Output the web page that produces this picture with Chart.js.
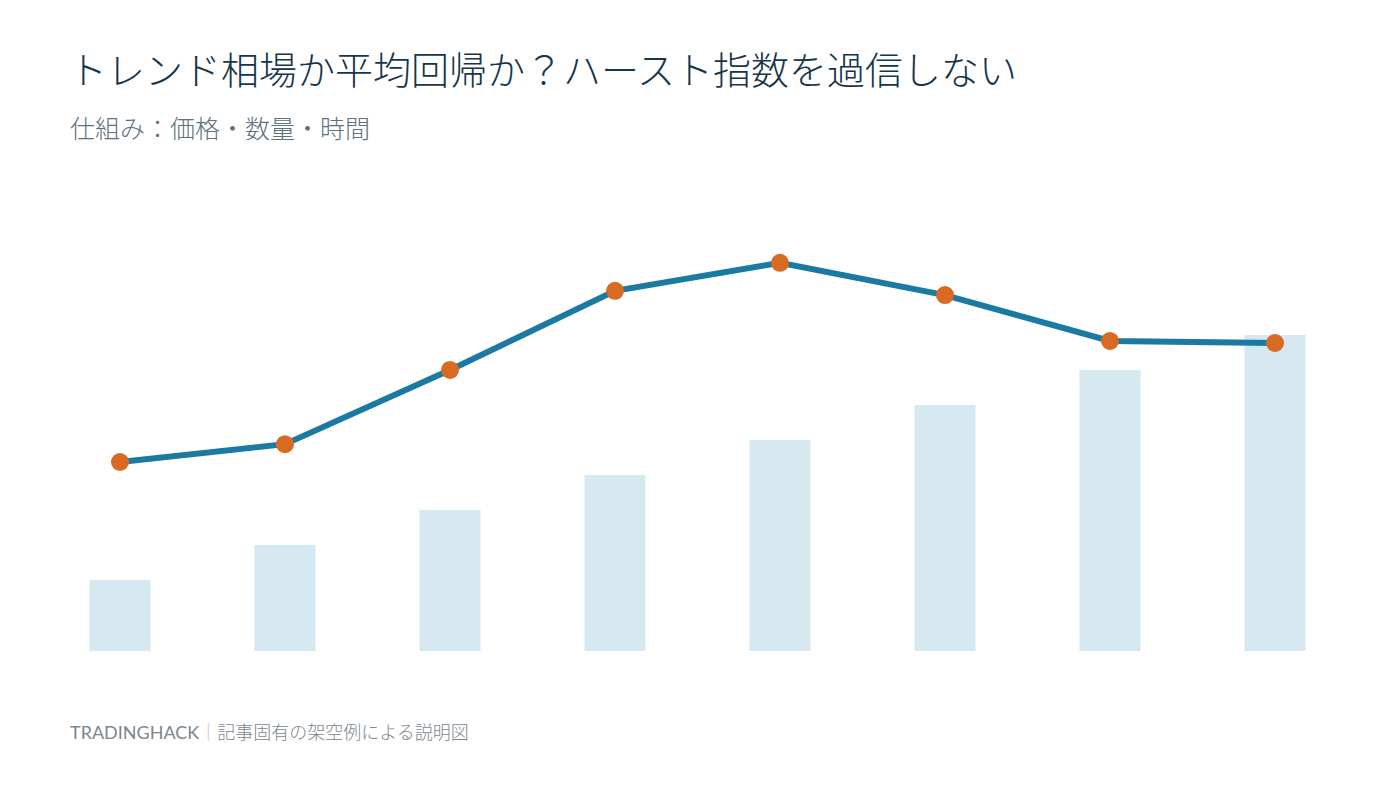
<!DOCTYPE html>
<html lang="ja">
<head>
<meta charset="utf-8">
<script src="https://cdn.jsdelivr.net/npm/chart.js@4"></script>
<style>
  html, body { margin:0; padding:0; background:#ffffff; width:1400px; height:788px; overflow:hidden; }
  body { position:relative; font-family:Lato,"Noto Sans CJK JP","Noto Sans",sans-serif; }
  #title { position:absolute; left:69px; top:47px; font-size:38px; font-weight:300; color:#15354a; white-space:nowrap; line-height:1.2; }
  #subtitle { position:absolute; left:70px; top:112px; font-size:25px; font-weight:300; color:#5d717e; white-space:nowrap; line-height:1.3; }
  #footer { position:absolute; left:70px; top:721px; font-size:18px; font-weight:400; color:#7b8791; white-space:nowrap; line-height:1.3; }
  #footer .cjk { font-weight:300; }
  #footer .sep { color:#b8c2c8; font-weight:300; }
  #wrap { position:absolute; left:0; top:200px; width:1400px; height:460px; }
</style>
</head>
<body>
<div id="title">トレンド相場か平均回帰か？ハースト指数を過信しない</div>
<div id="subtitle">仕組み：価格・数量・時間</div>
<div id="footer">TRADINGHACK<span class="sep">｜</span><span class="cjk">記事固有の架空例による説明図</span></div>
<div id="wrap"><canvas id="c" width="1400" height="460"></canvas></div>
<script>
const categories = ["1", "2", "3", "4", "5", "6", "7", "8"];
const barValues = [2.03, 3.03, 4.03, 5.03, 6.03, 7.03, 8.03, 9.03];
const lineValues = [5.4, 5.91, 8.03, 10.29, 11.09, 10.17, 8.86, 8.8];

const ctx = document.getElementById('c').getContext('2d');
new Chart(ctx, {
  data: {
    labels: categories,
    datasets: [
      {
        type: 'line',
        data: lineValues,
        borderColor: '#1a7aa1',
        borderWidth: 6,
        pointRadius: 9,
        pointHoverRadius: 9,
        pointBackgroundColor: '#d86a22',
        pointBorderWidth: 0,
        tension: 0,
        fill: false,
        order: 0
      },
      {
        type: 'bar',
        data: barValues,
        backgroundColor: '#d6e8f0',
        borderWidth: 0,
        categoryPercentage: 1,
        barPercentage: 0.37,
        order: 1
      }
    ]
  },
  options: {
    responsive: false,
    animation: false,
    layout: { padding: { left: 37.5, right: 42.5, top: 31, bottom: 9 } },
    plugins: { legend: { display: false }, tooltip: { enabled: false }, title: { display: false } },
    scales: {
      x: { display: false, offset: true },
      y: { display: false, min: 0, max: 12 }
    }
  }
});
</script>
</body>
</html>
